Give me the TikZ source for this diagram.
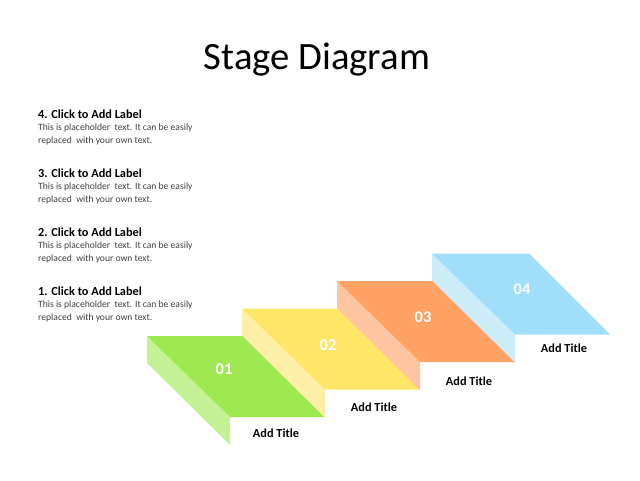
\documentclass[tikz,border=0pt]{standalone}
\usepackage{fontspec}
\setmainfont{Carlito}
\begin{document}
\begin{tikzpicture}[x=1pt,y=-1pt,
  numlbl/.style={text=white,font=\bfseries\fontsize{16.5}{18}\selectfont,inner sep=0pt},
  titlelbl/.style={font=\bfseries\fontsize{12.3}{14}\selectfont,inner sep=0pt},
  headlbl/.style={anchor=base west,font=\bfseries\fontsize{12.3}{14}\selectfont,inner sep=0pt},
  bodylbl/.style={anchor=base west,text=black!75,font=\fontsize{9.6}{13}\selectfont,inner sep=0pt,align=left}]
\useasboundingbox (0,0) rectangle (640,480);
\definecolor{g1}{RGB}{158,232,82}
\definecolor{g2}{RGB}{196,240,150}
\definecolor{y1}{RGB}{255,230,102}
\definecolor{y2}{RGB}{255,238,165}
\definecolor{o1}{RGB}{255,162,100}
\definecolor{o2}{RGB}{255,196,160}
\definecolor{b1}{RGB}{160,222,250}
\definecolor{b2}{RGB}{204,236,250}
% title
\node[font=\fontsize{38.7}{42}\selectfont,inner sep=0pt] (title) at (317,60) {Stage Diagram};
% step shapes: dx=95, dy=-27.5
\foreach \i/\ct/\cs in {0/g1/g2,1/y1/y2,2/o1/o2,3/b1/b2}{
  \begin{scope}[shift={(95*\i,-27.5*\i)}]
    \fill[\cs] (147,336) -- (230,417) -- (230,445) -- (147,363) -- cycle;
    \fill[\ct] (147,336) -- (244,336) -- (325,417) -- (230,417) -- cycle;
  \end{scope}
}
\node[numlbl] (n1) at (224,369) {01};
\node[numlbl] (n2) at (328,345) {02};
\node[numlbl] (n3) at (423,317) {03};
\node[numlbl] (n4) at (522,289) {04};
\node[titlelbl] (t1) at (276,433) {Add Title};
\node[titlelbl] (t2) at (374,407) {Add Title};
\node[titlelbl] (t3) at (469,381) {Add Title};
\node[titlelbl] (t4) at (564,348) {Add Title};
% left labels
\foreach \k/\yy in {4/118,3/177,2/236,1/295}{
  \node[headlbl] (h\k) at (38,\yy) {\k. Click to Add Label};
  \node[bodylbl] (b\k) at (38,\yy+12.5) {This is placeholder\ \ text. It can be easily};
  \node[bodylbl] (c\k) at (38,\yy+25.5) {replaced\ \ with your own text.};
}
\end{tikzpicture}
\end{document}
